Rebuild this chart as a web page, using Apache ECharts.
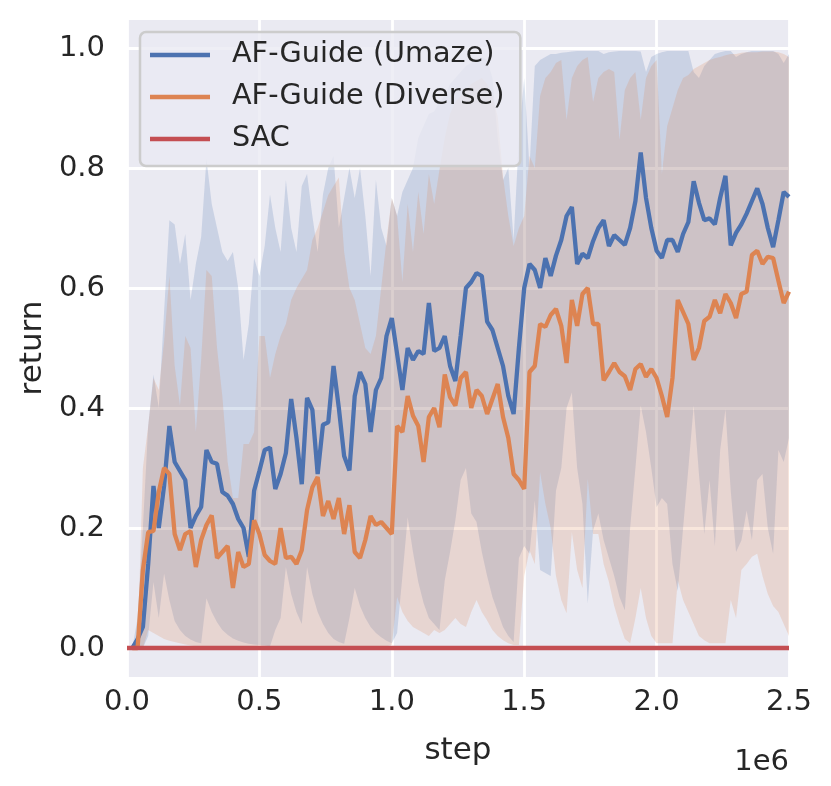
<!DOCTYPE html>
<html>
<head>
    <meta charset="UTF-8">
    <title>return vs step</title>
    <script src="https://cdn.jsdelivr.net/npm/echarts/dist/echarts.min.js"></script>
    <style>
        html, body { margin: 0; padding: 0; background: #ffffff; }
        #main { width: 831px; height: 786px; }
    </style>
</head>
<body>
<div id="main"></div>
<script>
    // logged every 20k steps, from 0.02e6 to 2.5e6
    var blueMean = [
        0.0, 0.015, 0.035, 0.14, 0.27, 0.20, 0.27, 0.37, 0.31, 0.295,
        0.28, 0.20, 0.22, 0.235, 0.33, 0.31, 0.307, 0.26, 0.254, 0.24,
        0.215, 0.20, 0.152, 0.262, 0.295, 0.33, 0.334, 0.265, 0.29, 0.325,
        0.415, 0.35, 0.273, 0.417, 0.397, 0.29, 0.372, 0.376, 0.47, 0.40,
        0.32, 0.296, 0.42, 0.46, 0.44, 0.36, 0.43, 0.45, 0.52, 0.55,
        0.49, 0.43, 0.50, 0.48, 0.495, 0.49, 0.575, 0.495, 0.50, 0.52,
        0.47, 0.445, 0.52, 0.60, 0.61, 0.625, 0.62, 0.544, 0.53, 0.50,
        0.47, 0.42, 0.39, 0.50, 0.60, 0.64, 0.63, 0.60, 0.65, 0.62,
        0.654, 0.68, 0.72, 0.735, 0.64, 0.657, 0.65, 0.678, 0.70, 0.713,
        0.67, 0.688, 0.68, 0.672, 0.70, 0.745, 0.826, 0.75, 0.70, 0.662,
        0.65, 0.68, 0.68, 0.66, 0.69, 0.71, 0.778, 0.742, 0.713, 0.716,
        0.706, 0.75, 0.787, 0.671, 0.692, 0.706, 0.724, 0.745, 0.766, 0.74,
        0.70, 0.668, 0.713, 0.76, 0.752
    ];
    var blueUpper = [
        0.0, 0.05, 0.2, 0.37, 0.456, 0.40, 0.56, 0.713, 0.706, 0.64,
        0.69, 0.58, 0.64, 0.685, 0.815, 0.74, 0.70, 0.66, 0.645, 0.66,
        0.60, 0.48, 0.54, 0.65, 0.62, 0.67, 0.756, 0.70, 0.66, 0.78,
        0.70, 0.66, 0.77, 0.79, 0.72, 0.66, 0.756, 0.80, 0.82, 0.70,
        0.75, 0.80, 0.75, 0.80, 0.72, 0.62, 0.78, 0.70, 0.67, 0.75,
        0.72, 0.76, 0.78, 0.80, 0.85, 0.87, 0.89, 0.894, 0.91, 0.92,
        0.94, 0.95, 0.96, 0.97, 0.975, 0.98, 0.985, 0.98, 0.95, 0.85,
        0.78, 0.80, 0.68, 0.85, 0.95, 0.80, 0.97, 0.98, 0.985, 0.99,
        0.99, 0.992, 0.993, 0.994, 0.995, 0.995, 0.995, 0.995, 0.995, 0.99,
        0.993, 0.994, 0.995, 0.995, 0.995, 0.995, 0.994, 0.96, 0.985, 0.99,
        0.993, 0.995, 0.995, 0.995, 0.995, 0.995, 0.96, 0.95, 0.97, 0.98,
        0.99, 0.993, 0.995, 0.995, 0.985, 0.99, 0.993, 0.995, 0.995, 0.995,
        0.995, 0.995, 0.99, 0.975, 0.99
    ];
    var blueLower = [
        0, 0, 0, 0.02, 0.11, 0.05, 0.124, 0.08, 0.045, 0.03,
        0.02, 0.014, 0.01, 0.008, 0.083, 0.06, 0.043, 0.03, 0.022, 0.016,
        0.012, 0.009, 0.007, 0.006, 0.005, 0.004, 0.003, 0.03, 0.05, 0.135,
        0.09, 0.06, 0.04, 0.135, 0.09, 0.06, 0.04, 0.025, 0.015, 0.01,
        0.007, 0.05, 0.10, 0.07, 0.05, 0.035, 0.025, 0.018, 0.012, 0.008,
        0.025, 0.12, 0.218, 0.16, 0.11, 0.075, 0.05, 0.04, 0.03, 0.113,
        0.16, 0.213, 0.28, 0.30, 0.224, 0.21, 0.16, 0.12, 0.085, 0.06,
        0.035, 0.02, 0.01, 0.15, 0.17, 0.157, 0.246, 0.13, 0.125, 0.12,
        0.262, 0.30, 0.40, 0.426, 0.30, 0.24, 0.074, 0.196, 0.224, 0.18,
        0.15, 0.12, 0.085, 0.063, 0.20, 0.30, 0.404, 0.36, 0.30, 0.235,
        0.25, 0.24, 0.14, 0.095, 0.20, 0.30, 0.404, 0.29, 0.19, 0.28,
        0.17, 0.33, 0.398, 0.262, 0.16, 0.179, 0.229, 0.18, 0.28, 0.29,
        0.20, 0.157, 0.33, 0.31, 0.35
    ];

    var orangeMean = [
        0.0, 0.0, 0.13, 0.193, 0.195, 0.26, 0.30, 0.29, 0.19, 0.163,
        0.19, 0.195, 0.135, 0.18, 0.205, 0.221, 0.15, 0.16, 0.17, 0.10,
        0.16, 0.135, 0.14, 0.213, 0.19, 0.155, 0.145, 0.14, 0.20, 0.15,
        0.152, 0.14, 0.163, 0.23, 0.268, 0.285, 0.22, 0.245, 0.215, 0.25,
        0.19, 0.238, 0.16, 0.15, 0.18, 0.22, 0.205, 0.21, 0.20, 0.19,
        0.37, 0.36, 0.42, 0.387, 0.37, 0.31, 0.385, 0.40, 0.368, 0.456,
        0.418, 0.404, 0.45, 0.46, 0.40, 0.43, 0.42, 0.39, 0.415, 0.44,
        0.385, 0.35, 0.29, 0.28, 0.265, 0.46, 0.47, 0.54, 0.535, 0.555,
        0.565, 0.537, 0.475, 0.58, 0.537, 0.59, 0.60, 0.54, 0.54, 0.446,
        0.46, 0.475, 0.46, 0.453, 0.43, 0.465, 0.473, 0.452, 0.465, 0.45,
        0.42, 0.385, 0.45, 0.58, 0.56, 0.54, 0.48, 0.50, 0.545, 0.552,
        0.58, 0.558, 0.59, 0.575, 0.55, 0.59, 0.594, 0.655, 0.662, 0.64,
        0.652, 0.65, 0.612, 0.575, 0.594
    ];
    var orangeUpper = [
        0.0, 0.0, 0.30, 0.37, 0.45, 0.43, 0.51, 0.62, 0.47, 0.404,
        0.52, 0.50, 0.36, 0.48, 0.63, 0.62, 0.50, 0.42, 0.31, 0.25,
        0.25, 0.34, 0.34, 0.36, 0.52, 0.52, 0.45, 0.49, 0.52, 0.54,
        0.58, 0.60, 0.615, 0.63, 0.68, 0.70, 0.727, 0.755, 0.77, 0.784,
        0.66, 0.60, 0.58, 0.54, 0.50, 0.49, 0.52, 0.60, 0.68, 0.75,
        0.72, 0.61, 0.74, 0.66, 0.76, 0.69, 0.79, 0.74, 0.797, 0.85,
        0.89, 0.91, 0.92, 0.93, 0.94, 0.945, 0.95, 0.94, 0.92, 0.885,
        0.786, 0.72, 0.67, 0.70, 0.72, 0.82, 0.80, 0.92, 0.95, 0.96,
        0.975, 0.98, 0.88, 0.95, 0.97, 0.98, 0.985, 0.91, 0.95, 0.96,
        0.965, 0.96, 0.847, 0.93, 0.95, 0.96, 0.88, 0.95, 0.97, 0.98,
        0.79, 0.87, 0.90, 0.93, 0.95, 0.955, 0.965, 0.97, 0.975, 0.98,
        0.983, 0.985, 0.988, 0.99, 0.99, 0.992, 0.993, 0.993, 0.993, 0.994,
        0.994, 0.994, 0.993, 0.99, 0.985
    ];
    var orangeLower = [
        0, 0, 0, 0.03, 0.025, 0.02, 0.015, 0.012, 0.01, 0.008,
        0.006, 0.004, 0.003, 0.003, 0.003, 0.003, 0.003, 0.003, 0.003, 0.003,
        0.003, 0.003, 0.003, 0.003, 0.003, 0.003, 0.003, 0.003, 0.003, 0.003,
        0.003, 0.003, 0.003, 0.003, 0.003, 0.003, 0.003, 0.003, 0.003, 0.003,
        0.003, 0.003, 0.003, 0.003, 0.003, 0.003, 0.003, 0.003, 0.003, 0.005,
        0.085, 0.06, 0.045, 0.035, 0.03, 0.025, 0.02, 0.03, 0.025, 0.03,
        0.04, 0.05, 0.04, 0.035, 0.06, 0.08, 0.06, 0.046, 0.03, 0.02,
        0.013, 0.008, 0.005, 0.005, 0.12, 0.163, 0.14, 0.293, 0.24, 0.2,
        0.12, 0.08, 0.058, 0.193, 0.13, 0.10, 0.282, 0.19, 0.19, 0.14,
        0.11, 0.07, 0.04, 0.015, 0.008, 0.05, 0.10, 0.05, 0.02, 0.008,
        0.008, 0.008, 0.008, 0.113, 0.08, 0.06, 0.04, 0.02, 0.013, 0.008,
        0.008, 0.008, 0.008, 0.08, 0.05, 0.13, 0.14, 0.152, 0.157, 0.12,
        0.09, 0.07, 0.06, 0.04, 0.02
    ];

    var sacSteps = [0, 500000, 1000000, 1500000, 2000000, 2500000];
    var sacMean = [0, 0, 0, 0, 0, 0];

    var names = ['AF-Guide (Umaze)', 'AF-Guide (Diverse)', 'SAC'];
    var colors = ['#4c72b0', '#dd8452', '#c44e52'];
    var yTicks = [0.0, 0.2, 0.4, 0.6, 0.8, 1.0];

    var steps = blueMean.map(function (v, i) { return (i + 1) * 20000; });
    var font = 'DejaVu Sans';
    var ink = '#262626';

    function pairs(xs, ys) {
        return xs.map(function (x, i) { return [x, ys[i]]; });
    }

    function band(upper, lower, color) {
        return {
            type: 'custom',
            silent: true,
            z: 1,
            data: pairs(steps, upper),
            encode: { x: 0, y: 1 },
            renderItem: function (params, api) {
                if (params.dataIndex !== 0) return null;
                var pts = [];
                for (var i = 0; i < steps.length; i++) {
                    pts.push(api.coord([steps[i], upper[i]]));
                }
                for (var j = steps.length - 1; j >= 0; j--) {
                    pts.push(api.coord([steps[j], lower[j]]));
                }
                return {
                    type: 'polygon',
                    shape: { points: pts },
                    style: { fill: color, opacity: 0.2 }
                };
            }
        };
    }

    function line(name, xs, ys, color, z) {
        return {
            name: name,
            type: 'line',
            data: pairs(xs, ys),
            symbol: 'none',
            z: z,
            lineStyle: { color: color, width: 4.3 },
            itemStyle: { color: color }
        };
    }

    var option = {
        animation: false,
        backgroundColor: '#ffffff',
        grid: {
            left: 127, right: 42, top: 18, bottom: 108,
            show: true, backgroundColor: '#eaeaf2', borderWidth: 0
        },
        legend: {
            data: names,
            orient: 'vertical',
            left: 140,
            top: 32,
            icon: 'rect',
            itemWidth: 60,
            itemHeight: 4.3,
            itemGap: 10,
            padding: [7, 16, 11, 10],
            selectedMode: false,
            backgroundColor: 'rgba(234,234,242,0.8)',
            borderColor: '#cccccc',
            borderWidth: 2.5,
            borderRadius: 6,
            textStyle: {
                fontFamily: font, fontSize: 28.7, color: ink,
                lineHeight: 32, padding: [0, 0, 0, 17]
            }
        },
        xAxis: {
            type: 'value',
            min: 0,
            max: 2500000,
            interval: 500000,
            name: 'step',
            nameLocation: 'middle',
            nameGap: 57,
            nameTextStyle: { fontFamily: font, fontSize: 31, color: ink },
            axisLine: { show: false },
            axisTick: { show: false },
            axisLabel: {
                margin: 10,
                fontFamily: font, fontSize: 29, color: ink,
                formatter: function (v) { return (v / 1e6).toFixed(1); }
            },
            splitLine: { lineStyle: { color: '#ffffff', width: 2.8 } }
        },
        yAxis: {
            type: 'value',
            min: -0.05,
            max: 1.05,
            name: 'return',
            nameLocation: 'middle',
            nameGap: 77,
            nameTextStyle: { fontFamily: font, fontSize: 31, color: ink },
            axisLine: { show: false },
            axisTick: { show: false },
            axisLabel: {
                margin: 22,
                fontFamily: font, fontSize: 29, color: ink,
                formatter: function (v) {
                    for (var i = 0; i < yTicks.length; i++) {
                        if (Math.abs(v - yTicks[i]) < 1e-6) return yTicks[i].toFixed(1);
                    }
                    return '';
                }
            },
            splitLine: { lineStyle: { color: '#ffffff', width: 2.8 } }
        },
        graphic: [{
            type: 'text',
            right: 42,
            top: 748,
            style: { text: '1e6', fill: ink, font: '29px "DejaVu Sans"' }
        }],
        series: [
            band(blueUpper, blueLower, colors[0]),
            band(orangeUpper, orangeLower, colors[1]),
            line(names[0], steps, blueMean, colors[0], 3),
            line(names[1], steps, orangeMean, colors[1], 4),
            line(names[2], sacSteps, sacMean, colors[2], 5)
        ]
    };

    var myChart = echarts.init(document.getElementById('main'));
    myChart.setOption(option);
</script>
</body>
</html>
